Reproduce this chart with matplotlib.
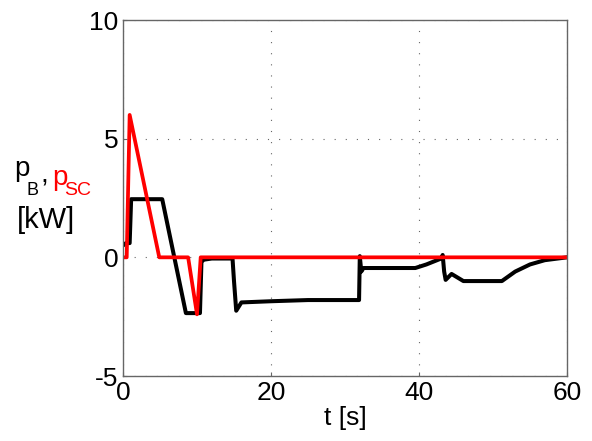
import matplotlib
matplotlib.use("Agg")
import matplotlib.pyplot as plt
import numpy as np

plt.rcParams['font.family'] = ['Liberation Sans', 'DejaVu Sans']
plt.rcParams['axes.unicode_minus'] = False

# battery power p_B [kW]
t_b = [0, 0.4, 0.9, 1.1, 5.3, 8.5, 10.4, 10.6, 10.9, 12, 14.8, 15.0, 15.3, 16, 20, 25, 31.9,
       32.0, 32.2, 32.5, 35, 39.5, 41, 43.0, 43.2, 43.4, 43.6, 44.4, 46, 51.2, 53, 55, 57, 60]
p_b = [0.5, 0.6, 0.6, 2.45, 2.45, -2.35, -2.35, -0.2, -0.1, -0.05, -0.05, -1.0, -2.25, -1.9, -1.85,
       -1.8, -1.8, 0.05, -0.6, -0.45, -0.45, -0.45, -0.3, -0.05, 0.1, -0.6, -0.95, -0.7, -1.0,
       -1.0, -0.6, -0.3, -0.12, 0.0]

# supercapacitor power p_SC [kW]
t_sc = [0, 0.5, 0.9, 4.9, 8.8, 10.0, 10.5, 60]
p_sc = [0, 0, 6.0, 0, 0, -2.4, 0, 0]

W, H = 592, 441
fig, ax = plt.subplots(figsize=(W / 100, H / 100), dpi=100)
fig.subplots_adjust(left=123 / W, right=567 / W, top=1 - 20 / H, bottom=1 - 376 / H)

ax.plot(t_b, p_b, color="black", linewidth=2.9, solid_joinstyle="round")
ax.plot(t_sc, p_sc, color="red", linewidth=2.7, solid_joinstyle="round")

ax.set_xlim(0, 60)
ax.set_ylim(-5, 10)
ax.set_xticks([0, 20, 40, 60])
ax.set_yticks([-5, 0, 5, 10])
ax.grid(True, color="#666666", linestyle=(0, (1, 9)), linewidth=0.8)
ax.tick_params(labelsize=19, direction="in", length=3, color="#666666")
for s in ax.spines.values():
    s.set_linewidth(1.0)
    s.set_color("#666666")

ax.set_xlabel("t [s]", fontsize=19, labelpad=1)


def ptext(x, y, s, size, color="black"):
    # place text by pixel position (baseline)
    fig.text(x / W, 1 - y / H, s, fontsize=size, color=color, va="baseline", ha="left")


# y label: p_B (black), p_SC (red), [kW]
ptext(14, 176, "p", 20)
ptext(27, 195, "B", 13)
ptext(40, 183, ",", 20)
ptext(52, 185, "p", 20, "red")
ptext(64, 195, "SC", 14, "red")
ptext(17, 228, "[kW]", 21)

fig.savefig("out.png", dpi=100)
